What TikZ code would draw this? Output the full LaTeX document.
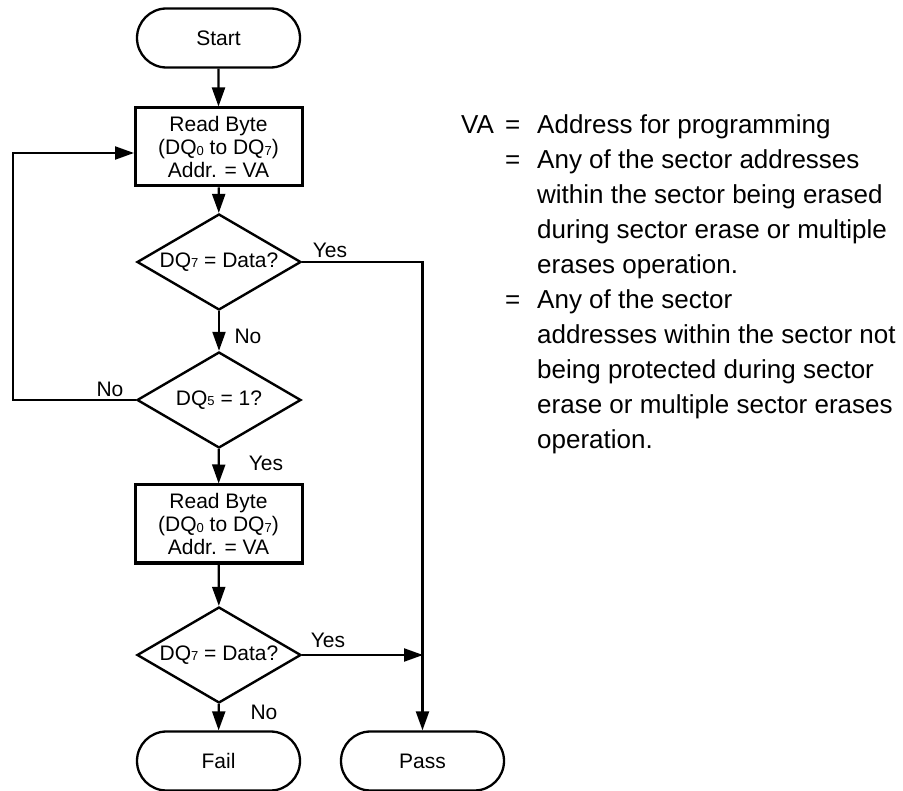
\documentclass[tikz,border=0pt]{standalone}
\usepackage{fontspec}
\setmainfont{Liberation Sans}
\usetikzlibrary{shapes.geometric,shapes.misc,arrows.meta}
\newcommand{\sdig}[1]{\raisebox{-0.5pt}{\fontsize{13}{13}\selectfont #1}}
\begin{document}
\begin{tikzpicture}[x=1pt,y=-1pt,
  every node/.style={font=\fontsize{21}{23}\selectfont},
  term/.style={draw,rounded rectangle,line width=2.3pt,minimum width=163pt,minimum height=59pt,inner sep=0pt},
  proc/.style={draw,line width=3pt,minimum width=167pt,minimum height=78pt,inner sep=0pt,align=center},
  dec/.style={draw,diamond,line width=2.4pt,shape aspect=1.7,minimum width=164pt,minimum height=96pt,inner sep=0pt},
  conn/.style={line width=2.2pt,-{Triangle[length=19pt,width=13pt]}},
  lbl/.style={inner sep=0pt},
  note/.style={font=\fontsize{26}{35}\selectfont,anchor=base west,inner sep=0pt}]
\useasboundingbox (0,0) rectangle (903,791);

\node[term] (start) at (218.5,38) {Start};
\node[proc] (rb1) at (218.5,147) {Read Byte\\(DQ\sdig0 to DQ\sdig7)\\Addr. = VA};
\node[dec] (d1) at (219,262) {DQ\sdig7 = Data?};
\node[dec] (d2) at (219,400) {DQ\sdig5 = 1?};
\node[proc] (rb2) at (218.5,524) {Read Byte\\(DQ\sdig0 to DQ\sdig7)\\Addr. = VA};
\node[dec] (d3) at (219,655) {DQ\sdig7 = Data?};
\node[term] (fail) at (218.5,761) {Fail};
\node[term] (pass) at (422.5,761) {Pass};

\coordinate (pj) at (423,655);
\coordinate (lp) at (13,153);
\coordinate (rb1in) at (134,153);

\draw[conn] (start) -- (rb1);
\draw[conn] (rb1) -- (d1);
\draw[conn] (d1) -- (d2);
\draw[conn] (d2) -- (rb2);
\draw[conn] (rb2) -- (d3);
\draw[conn] (d3) -- (fail);
\draw[conn] (d1.east) -| (pass.north);
\draw[conn] (d3.east) -- (pj);
\draw[conn] (d2.west) -| (lp) -- (rb1in);

\node[lbl] (y1) at (330,250) {Yes};
\node[lbl] (n1) at (248,336) {No};
\node[lbl] (n2) at (110,389) {No};
\node[lbl] (y2) at (266,463) {Yes};
\node[lbl] (y3) at (328,640) {Yes};
\node[lbl] (n3) at (264,712) {No};

\node[note] (va) at (461,134) {VA};
\node[note] (e1) at (505,134) {=};
\node[note] (t1) at (537,134) {Address for programming};
\node[note] (e2) at (505,169) {=};
\node[note] (t2) at (537,169) {Any of the sector addresses};
\node[note] (t3) at (537,204) {within the sector being erased};
\node[note] (t4) at (537,239) {during sector erase or multiple};
\node[note] (t5) at (537,274) {erases operation.};
\node[note] (e3) at (505,309) {=};
\node[note] (t6) at (537,309) {Any of the sector};
\node[note] (t7) at (537,344) {addresses within the sector not};
\node[note] (t8) at (537,379) {being protected during sector};
\node[note] (t9) at (537,414) {erase or multiple sector erases};
\node[note] (t10) at (537,449) {operation.};
\end{tikzpicture}
\end{document}
